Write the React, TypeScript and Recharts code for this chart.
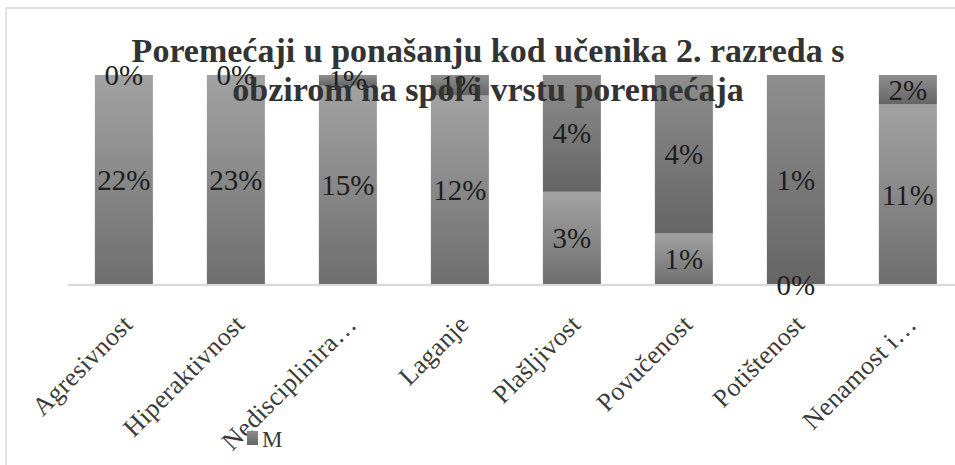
import { BarChart, Bar, XAxis, YAxis, LabelList } from "recharts";

// kategorije poremećaja (skraćene kao na originalu)
const categories = [
  "Agresivnost",
  "Hiperaktivnost",
  "Nedisciplinira…",
  "Laganje",
  "Plašljivost",
  "Povučenost",
  "Potištenost",
  "Nenamost i…",
];

// donji (svjetliji) niz
const zValues = [22, 23, 15, 12, 3.2, 1.3, 0, 11];
// gornji (tamniji) niz - M
const mValues = [0, 0, 0.8, 1.3, 4, 4, 1, 1.8];

const titleLines = [
  "Poremećaji u ponašanju kod učenika 2. razreda s",
  "obzirom na spol i vrstu poremećaja",
];

const chartData = categories.map((name, i) => ({
  name,
  z: zValues[i],
  m: mValues[i],
}));

const FONT = "Liberation Serif, Times New Roman, serif";

const pct = (v: any) => `${Math.round(Number(v))}%`;

function AngledTick({ x, y, payload }: any) {
  return (
    <g transform={`translate(${x + 10},${y + 33})`}>
      <text
        textAnchor="end"
        transform="rotate(-45)"
        fontFamily={FONT}
        style={{ fontFamily: FONT, fontSize: 26, letterSpacing: 0.3 }}
        fill="#3a3a3a"
      >
        {payload.value}
      </text>
    </g>
  );
}

function PctLabel({ x, y, width, height, value }: any) {
  return (
    <text
      x={x + width / 2}
      y={y + height / 2}
      textAnchor="middle"
      dominantBaseline="central"
      fontFamily={FONT}
      fontSize={29}
      style={{ fontFamily: FONT, fontSize: 29 }}
      fill="#1e1e1e"
    >
      {pct(value)}
    </text>
  );
}

export default function App() {
  return (
    <div
      style={{
        position: "absolute",
        left: 0,
        top: 0,
        width: 955,
        height: 465,
        overflow: "hidden",
        background: "#fff",
      }}
    >
      <div
        style={{
          position: "absolute",
          left: 5,
          top: 7,
          width: 1000,
          height: 500,
          border: "2px solid #e2e2e2",
        }}
      />
      <div style={{ position: "absolute", left: 0, top: 0 }}>
        <BarChart
          width={990}
          height={465}
          data={chartData}
          stackOffset="expand"
          barCategoryGap="24%"
          margin={{ top: 75, right: 26, left: 68, bottom: 40 }}
        >
          <defs>
            <linearGradient id="gradZ" x1="0" y1="0" x2="0" y2="1">
              <stop offset="0%" stopColor="#a2a2a2" />
              <stop offset="100%" stopColor="#6e6e6e" />
            </linearGradient>
            <linearGradient id="gradM" x1="0" y1="0" x2="0" y2="1">
              <stop offset="0%" stopColor="#8e8e8e" />
              <stop offset="100%" stopColor="#656565" />
            </linearGradient>
          </defs>
          <XAxis
            dataKey="name"
            interval={0}
            height={140}
            tickLine={false}
            axisLine={{ stroke: "#d9d9d9", strokeWidth: 2 }}
            tick={<AngledTick />}
          />
          <YAxis hide />
          <Bar
            dataKey="z"
            name="Ž"
            stackId="a"
            fill="url(#gradZ)"
            minPointSize={0.01}
            isAnimationActive={false}
          >
            <LabelList dataKey="z" content={<PctLabel />} />
          </Bar>
          <Bar
            dataKey="m"
            name="M"
            stackId="a"
            fill="url(#gradM)"
            minPointSize={0.01}
            isAnimationActive={false}
          >
            <LabelList dataKey="m" content={<PctLabel />} />
          </Bar>
        </BarChart>
      </div>
      <svg
        width={955}
        height={465}
        style={{ position: "absolute", left: 0, top: 0, pointerEvents: "none" }}
      >
        <defs>
          <linearGradient id="gradLeg" x1="0" y1="0" x2="0" y2="1">
            <stop offset="0%" stopColor="#8e8e8e" />
            <stop offset="100%" stopColor="#656565" />
          </linearGradient>
        </defs>
        {titleLines.map((line, i) => (
          <text
            key={i}
            x={488}
            y={62 + i * 39}
            textAnchor="middle"
            style={{ fontFamily: FONT, fontWeight: "bold", fontSize: 34 }}
            fill="#333"
          >
            {line}
          </text>
        ))}
        <rect x={247} y={431} width={11} height={14} fill="url(#gradLeg)" />
        <text x={262} y={447} style={{ fontFamily: FONT, fontSize: 23 }} fill="#3a3a3a">
          M
        </text>
      </svg>
    </div>
  );
}
